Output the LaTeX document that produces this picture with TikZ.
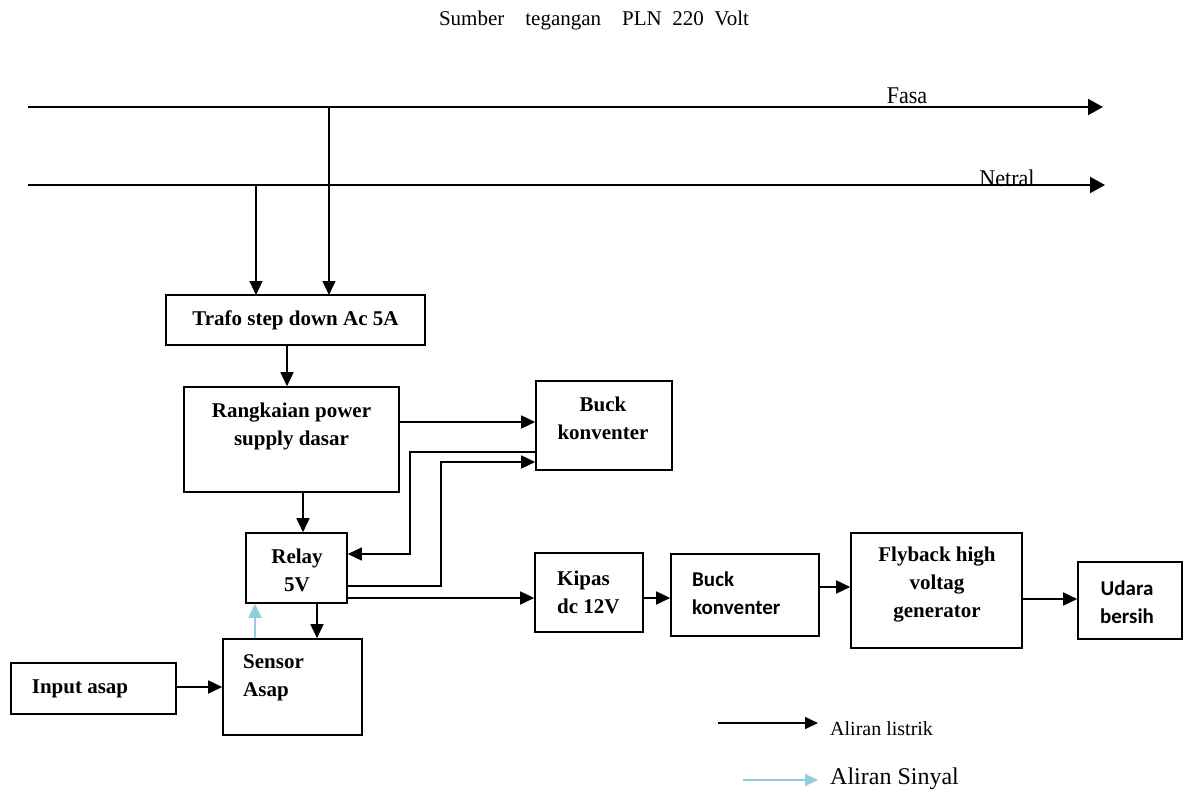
\documentclass[tikz,border=0pt]{standalone}
\usepackage{fontspec}
\setmainfont{Liberation Serif}
\newfontfamily\calfont{Carlito}
\newfontfamily\narrowfont[FakeStretch=0.92]{Liberation Serif}
\usetikzlibrary{arrows.meta}
\definecolor{sigblue}{RGB}{146,205,220}
\tikzset{
  box/.style={draw, line width=1.6pt, inner sep=0pt, rectangle},
  txt/.style={inner sep=0pt, align=center, font=\fontsize{21}{28}\selectfont\bfseries},
  ctxt/.style={inner sep=0pt, align=left, font=\fontsize{21}{28}\selectfont\calfont\bfseries},
  elec/.style={line width=1.6pt, -{Triangle[length=14pt,width=13pt]}},
  sig/.style={line width=1.8pt, sigblue, -{Triangle[length=14pt,width=13pt]}},
  rail/.style={line width=2pt, -{Triangle[length=15pt,width=16pt]}},
  drop/.style={line width=1.2pt, -{Triangle[length=14pt,width=13pt]}}
}
\begin{document}
\begin{tikzpicture}[x=1pt,y=-1pt]
\useasboundingbox (0,0) rectangle (1189,792);

% title
\node[inner sep=0pt, font=\fontsize{21}{24}\selectfont] (title) at (594,20) {Sumber\hspace{1em}tegangan\hspace{1em}PLN\hspace{0.5em}220\hspace{0.5em}Volt};

% rails
\coordinate (fL) at (28,107);
\coordinate (fR) at (1103,107);
\coordinate (nL) at (28,185);
\coordinate (nR) at (1105,185);
\draw[rail] (fL) -- (fR);
\draw[rail] (nL) -- (nR);
\node[inner sep=0pt, anchor=base, font=\fontsize{24}{26}\selectfont\narrowfont] (fasa) at (907,103) {Fasa};
\node[inner sep=0pt, anchor=base, font=\fontsize{24}{26}\selectfont\narrowfont] (netral) at (1007,186) {Netral};

% boxes
\node[box, minimum width=259pt, minimum height=50pt] (trafo) at (295.5,320) {};
\node[txt] (trafoT) at (295.5,320) {Trafo step down Ac 5A};

\node[box, minimum width=215pt, minimum height=105pt] (rps) at (291.5,439.5) {};
\node[txt] (rpsT) at (291.5,426) {Rangkaian power\\supply dasar};

\node[box, minimum width=136pt, minimum height=89pt] (buck1) at (604,425.5) {};
\node[txt] (buck1T) at (603,418.5) {Buck\\konventer};

\node[box, minimum width=101pt, minimum height=70pt] (relay) at (296.5,568) {};
\node[txt] (relayT) at (297,570.5) {Relay\\5V};

\node[box, minimum width=139pt, minimum height=96pt] (sensor) at (292.5,687) {};
\node[txt, align=left, anchor=west] (sensorT) at (243,678) {Sensor\\Asap};

\node[box, minimum width=165pt, minimum height=51pt] (input) at (93.5,688.5) {};
\node[txt] (inputT) at (80,689) {Input asap};

\node[box, minimum width=108pt, minimum height=79pt] (kipas) at (589,592.5) {};
\node[txt, align=left, anchor=west] (kipasT) at (557,592) {Kipas\\dc 12V};

\node[box, minimum width=148pt, minimum height=82pt] (buck2) at (745,595) {};
\node[ctxt, anchor=west] (buck2T) at (692,593) {Buck\\konventer};

\node[box, minimum width=171pt, minimum height=115pt] (fly) at (936.5,590.5) {};
\node[txt] (flyT) at (937,585) {Flyback high\\voltag\\generator};

\node[box, minimum width=104pt, minimum height=77pt] (udara) at (1130,600.5) {};
\node[ctxt, align=center] (udaraT) at (1127,602) {Udara\\bersih};

% drops from rails
\draw[drop] (329,107) -- (329,295);
\draw[drop] (256,185) -- (256,295);

% connectors
\draw[elec] (trafo.south -| 287,0) -- (rps.north -| 287,0);
\draw[elec] (rps.east |- 0,422) -- (buck1.west |- 0,422);
\draw[elec] (buck1.west |- 0,452) -- (410,452) -- (410,554) -- (relay.east |- 0,554);
\draw[elec] (relay.east |- 0,586) -- (441,586) -- (441,462) -- (buck1.west |- 0,462);
\draw[elec] (relay.east |- 0,598) -- (kipas.west |- 0,598);
\draw[elec] (rps.south -| 303,0) -- (relay.north -| 303,0);
\draw[elec] (relay.south -| 317,0) -- (sensor.north -| 317,0);
\draw[sig] (sensor.north -| 255,0) -- (relay.south -| 255,0);
\draw[elec] (input.east |- 0,687) -- (sensor.west |- 0,687);
\draw[elec] (kipas.east |- 0,598) -- (buck2.west |- 0,598);
\draw[elec] (buck2.east |- 0,587) -- (fly.west |- 0,587);
\draw[elec] (fly.east |- 0,599) -- (udara.west |- 0,599);

% legend
\coordinate (l1a) at (718,723);
\coordinate (l1b) at (818,723);
\coordinate (l2a) at (743,780);
\coordinate (l2b) at (818,780);
\draw[line width=1.6pt, -{Triangle[length=13pt,width=12pt]}] (l1a) -- (l1b);
\draw[line width=1.8pt, sigblue, -{Triangle[length=13pt,width=12pt]}] (l2a) -- (l2b);
\node[inner sep=0pt, anchor=base west, font=\fontsize{20}{24}\selectfont] (leg1) at (830,735) {Aliran listrik};
\node[inner sep=0pt, anchor=base west, font=\fontsize{24}{28}\selectfont] (leg2) at (830,784) {Aliran Sinyal};
\end{tikzpicture}
\end{document}
